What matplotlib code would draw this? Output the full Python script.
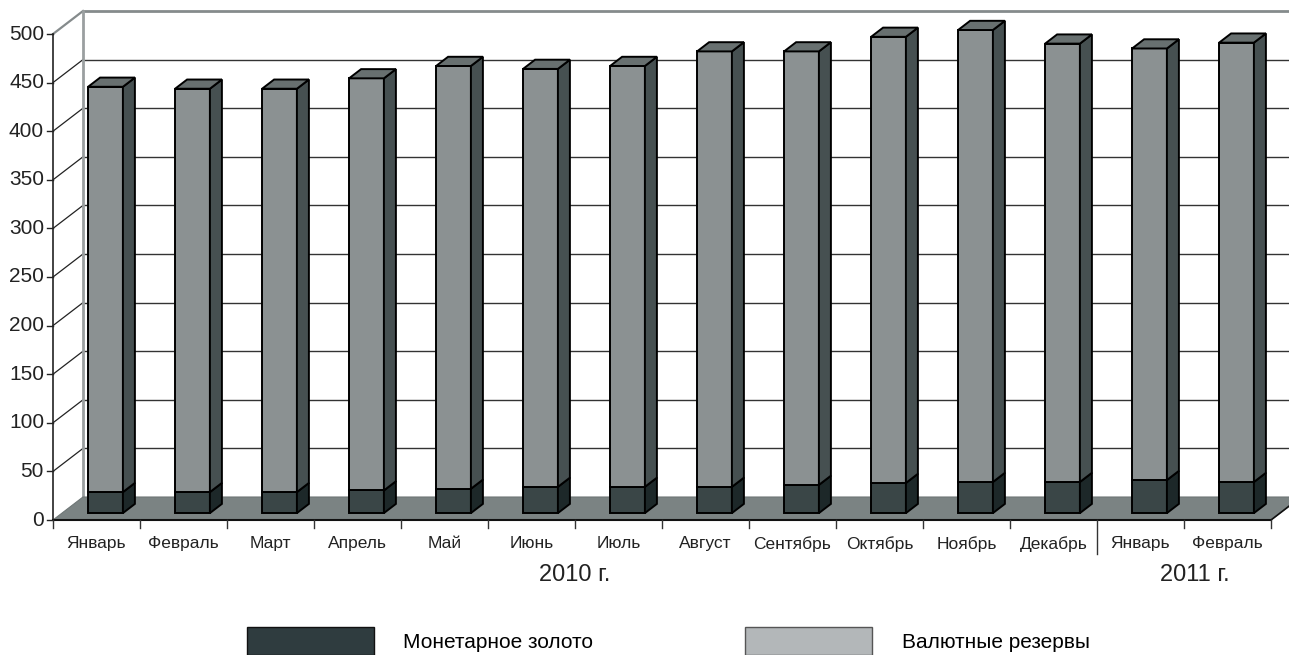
import matplotlib
matplotlib.use("Agg")
import matplotlib.pyplot as plt
from matplotlib.patches import Polygon, Patch

plt.rcParams['font.family'] = ['Liberation Sans', 'DejaVu Sans']

# Data (billions)
months = ['Январь', 'Февраль', 'Март', 'Апрель', 'Май', 'Июнь', 'Июль',
          'Август', 'Сентябрь', 'Октябрь', 'Ноябрь', 'Декабрь', 'Январь', 'Февраль']
gold = [21.6, 21.6, 21.6, 23.3, 25, 27, 27, 27, 29, 31, 32, 32, 34, 32]
reserves = [417, 415, 415, 424, 435, 430, 433, 448, 446, 459, 465, 451, 444, 452]
years = ['2010 г.', '2011 г.']
year_pos = [6.0, 13.13]
yticks = list(range(0, 501, 50))

# pseudo-3d geometry (in data units)
ppx, ppy = 87.0, 0.972          # pixels per unit
dxw, dyw = 30 / ppx, 23 / ppy   # wall depth offset
f0, f1 = 0.3, 0.7               # bar depth inside the wall depth
bw = 0.4                        # bar width

fig = plt.figure(figsize=(12.89, 6.55), dpi=100)
ax = fig.add_axes([0, 0, 1, 1])
ax.set_xlim(-53 / ppx, (1289 - 53) / ppx)
ax.set_ylim(-(655 - 520) / ppy, 520 / ppy)
ax.axis('off')

n = len(months)
ymax = yticks[-1]

# back wall gridlines
for v in yticks[1:-1]:
    ax.plot([dxw, n + dxw], [v + dyw, v + dyw], color='#333333', lw=1, zorder=1)
    ax.plot([0, dxw], [v, v + dyw], color='#222222', lw=0.9, zorder=1)
# wall borders
ax.plot([dxw, n + dxw], [ymax + dyw, ymax + dyw], color='#858b8c', lw=2, zorder=1)
ax.plot([0, dxw], [ymax, ymax + dyw], color='#858b8c', lw=1.6, zorder=1)
ax.plot([dxw, dxw], [dyw, ymax + dyw], color='#9a9fa0', lw=2, zorder=1)
ax.plot([0, 0], [0, ymax], color='#222222', lw=1.2, zorder=3)

# floor
floor = Polygon([(0, 0), (n, 0), (n + dxw, dyw), (dxw, dyw)], closed=True,
                fc='#7b8383', ec='#6e7676', lw=0.8, zorder=2)
ax.add_patch(floor)
ax.plot([0, n], [0, 0], color='#111111', lw=1.5, zorder=3)
ax.plot([n, n + dxw], [0, dyw], color='#111111', lw=1.2, zorder=3)

# y ticks and labels
for v in yticks:
    ax.plot([-6 / ppx, 0], [v, v], color='#222222', lw=1, zorder=3)
    ax.text(-9 / ppx, v, str(v), ha='right', va='center', fontsize=15, color='#222222')

# x ticks, separator between years
for i in range(n + 1):
    low = -34 / ppy if i == 12 else -8 / ppy
    ax.plot([i, i], [0, low], color='#333333', lw=1, zorder=3)


def bar3d(i, y0, y1, front, side, top):
    xl = i + (1 - bw) / 2 + f0 * dxw
    xr = xl + bw
    b0, b1 = y0 + f0 * dyw, y1 + f0 * dyw
    ddx, ddy = (f1 - f0) * dxw, (f1 - f0) * dyw
    kw = dict(closed=True, ec='black', lw=1.4, zorder=5)
    ax.add_patch(Polygon([(xl, b0), (xr, b0), (xr, b1), (xl, b1)], fc=front, **kw))
    ax.add_patch(Polygon([(xr, b0), (xr + ddx, b0 + ddy), (xr + ddx, b1 + ddy), (xr, b1)],
                         fc=side, **kw))
    if top is not None:
        ax.add_patch(Polygon([(xl, b1), (xr, b1), (xr + ddx, b1 + ddy), (xl + ddx, b1 + ddy)],
                             fc=top, **kw))


for i in range(n):
    bar3d(i, 0, gold[i], '#3a4647', '#1d2829', None)
    bar3d(i, gold[i], gold[i] + reserves[i], '#8b9192', '#465051', '#687070')
    ax.text(i + 0.5, -24.5, months[i], ha='center', va='center', fontsize=12.5, color='#222222')

for lab, xp in zip(years, year_pos):
    ax.text(xp, -56.5, lab, ha='center', va='center', fontsize=17, color='#222222')

handles = [Patch(fc='#2f3c3f', ec='#111111', lw=1),
           Patch(fc='#b3b7b9', ec='#555555', lw=1)]
fig.legend(handles=handles, labels=['Монетарное золото', 'Валютные резервы'],
           loc='upper left', bbox_to_anchor=(247 / 1289, 1 - 627 / 655), ncol=2,
           frameon=False, fontsize=15, handlelength=6.1, handleheight=1.7,
           handletextpad=1.4, columnspacing=7.3, borderpad=0, borderaxespad=0)

fig.savefig('out.png', dpi=100)
